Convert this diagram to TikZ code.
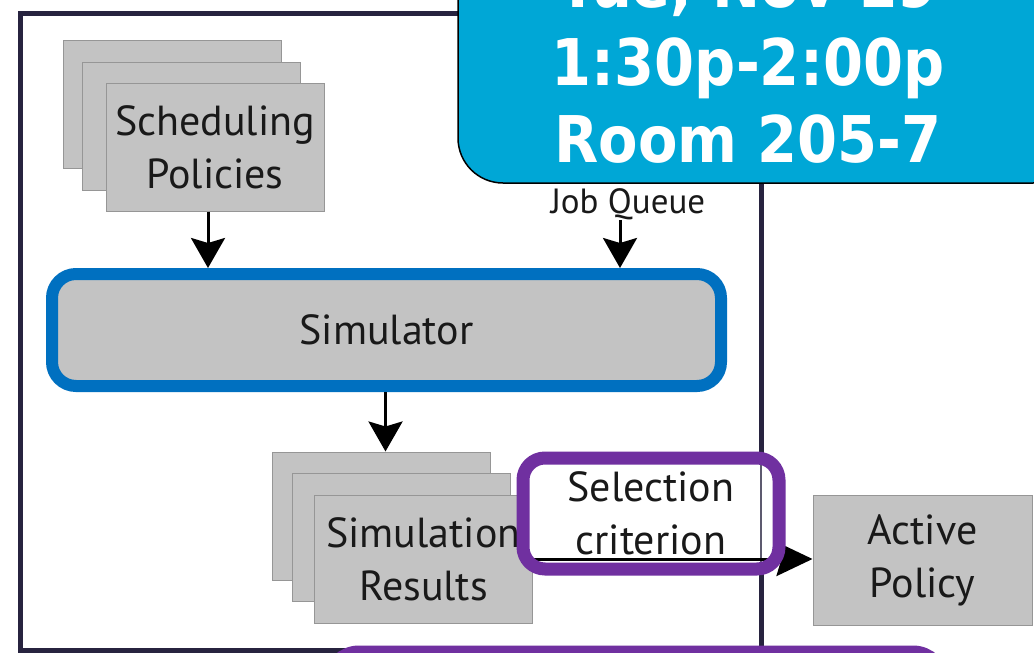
\documentclass[tikz,border=0pt]{standalone}
\usepackage{fontspec}
\setmainfont{PT Sans}
\newfontfamily\bannerfont{DejaVu Sans}
\usetikzlibrary{arrows.meta}
\definecolor{framecol}{RGB}{39,35,63}
\definecolor{boxgray}{RGB}{195,195,195}
\definecolor{boxedge}{RGB}{150,150,150}
\definecolor{simblue}{RGB}{0,112,192}
\definecolor{banner}{RGB}{0,167,214}
\definecolor{selpurple}{RGB}{112,48,160}
\definecolor{txt}{RGB}{25,25,25}
\tikzset{
  grayrect/.style={draw=boxedge, line width=1pt, fill=boxgray, minimum width=218pt, minimum height=128pt, inner sep=0pt, text=txt, align=center, font=\fontsize{42}{53}\selectfont},
  flowarrow/.style={draw=black, line width=3pt, -{Stealth[length=30pt, width=34pt, inset=5pt]}},
  bannertext/.style={text=white, anchor=base, inner sep=0pt, font=\bannerfont\bfseries\fontsize{57.5}{60}\selectfont},
}
\begin{document}
\begin{tikzpicture}[x=1pt, y=-1pt]
\useasboundingbox (0,0) rectangle (1034,653);
\clip (0,0) rectangle (1034,653);
\fill[white] (0,0) rectangle (1034,653);
% outer frame
\draw[framecol, line width=5pt] (20,13) rectangle (761,650);
% scheduling policies stack
\node[grayrect] (sched1) at (172.5,104) {};
\node[grayrect] (sched2) at (191,126) {};
\node[grayrect] (sched3) at (215,147) {Scheduling\\Policies};
% simulator
\node[draw=simblue, line width=12pt, fill=boxgray, rounded corners=24pt, minimum width=669pt, minimum height=112pt, text=txt, font=\fontsize{42}{50}\selectfont] (sim) at (386.5,330) {Simulator};
% job queue
\node[text=txt, font=\fontsize{35}{40}\selectfont, inner sep=0pt] (jobq) at (628,204) {Job Queue};
% simulation results stack
\node[grayrect] (simres1) at (381,516) {};
\node[grayrect] (simres2) at (401,537.5) {};
\node[grayrect] (simres3) at (423.5,559) {Simulation\\Results};
% active policy
\node[grayrect, minimum width=219pt, minimum height=130pt] (active) at (922.5,560) {Active\\Policy};
% arrows
\draw[flowarrow] ([xshift=-7pt]sched3.south) -- ([xshift=-7pt]sched3.south |- sim.north);
\draw[flowarrow] ([xshift=-8pt]jobq.south) -- ([xshift=-8pt]jobq.south |- sim.north);
\draw[flowarrow] ([xshift=-1pt]sim.south) -- ([xshift=-1pt]sim.south |- simres1.north);
% selection criterion background
\node[fill=white, rounded corners=22pt, minimum width=256pt, minimum height=111pt] (selbg) at (651,513.5) {};
\draw[framecol!75, line width=2.5pt] (761,462) -- (761,565);
\draw[draw=black, line width=3pt, -{Stealth[length=36pt, width=34pt, inset=5pt]}] (simres3.east) -- (simres3.east -| active.west);
\node[draw=selpurple, line width=13pt, rounded corners=22pt, minimum width=256pt, minimum height=111pt, text=txt, align=center, font=\fontsize{42}{53}\selectfont] (sel) at (651,513.5) {Selection\\criterion};
% bottom purple box
\node[draw=selpurple, line width=13pt, rounded corners=30pt, minimum width=614pt, minimum height=80pt] (bottombox) at (636,692) {};
% banner
\node[draw=black, line width=1.5pt, fill=banner, rounded corners=45pt, minimum width=620pt, minimum height=260pt] (bannerbox) at (768,53) {};
\node[bannertext] (tline1) at (748,8) {\scalebox{1}[1.12]{Tue, Nov 19}};
\node[bannertext] (tline2) at (748,85) {\scalebox{1}[1.12]{1:30p-2:00p}};
\node[bannertext] (tline3) at (748,162) {\scalebox{1}[1.12]{Room 205-7}};
\end{tikzpicture}
\end{document}
